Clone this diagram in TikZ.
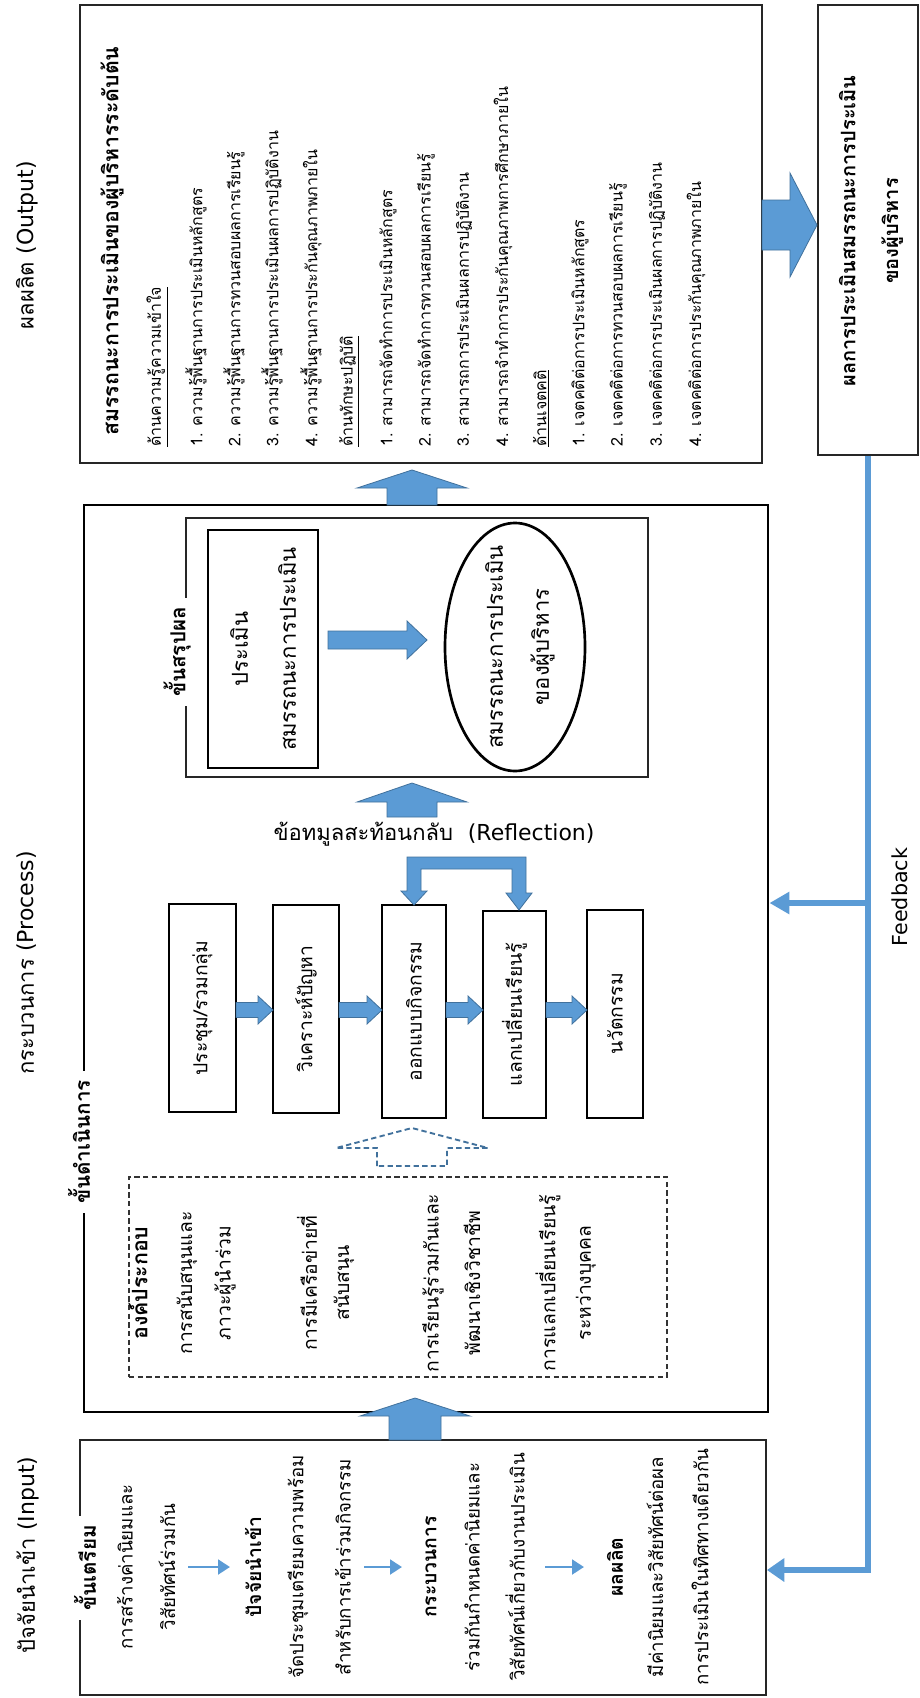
\documentclass[tikz,border=0pt]{standalone}
\usepackage{fontspec}
\setmainfont[Script=Thai]{Loma}
\newfontfamily\lat{DejaVu Sans}
\usetikzlibrary{shapes.geometric,arrows.meta,fit,calc}
\definecolor{ablue}{RGB}{91,155,213}
\definecolor{aedge}{RGB}{65,113,156}
\tikzset{
  vtext/.style={rotate=90, inner sep=0pt},
  ttl/.style={vtext, font=\fontsize{16.5}{19}\selectfont},
  itm/.style={vtext, anchor=west, font=\fontsize{12}{14}\selectfont},
  otitle/.style={vtext, anchor=west, font=\fontsize{16}{18}\selectfont\bfseries},
  inl/.style={vtext, font=\fontsize{14}{16}\selectfont},
  inlb/.style={vtext, font=\fontsize{14.5}{16}\selectfont\bfseries},
  cmp/.style={vtext, font=\fontsize{14.5}{17}\selectfont},
  edgelabel/.style={vtext, fill=white, inner xsep=7pt, inner ysep=1pt, font=\fontsize{15.5}{17}\selectfont\bfseries},
  thinbox/.style={draw=black!85, line width=1.1pt, inner sep=0pt},
  thickbox/.style={draw=black, line width=2.2pt, inner sep=0pt},
  stepbox/.style={draw=black, line width=2pt, inner sep=0pt},
  steptext/.style={vtext, font=\fontsize{14.5}{16}\selectfont},
  fbl/.style={draw=ablue, line width=4.5pt, line join=miter},
  smallarr/.style={draw=ablue, line width=2.2pt, -{Triangle[length=9pt,width=11pt]}},
  pics/fatarrow/.style args={#1/#2/#3/#4}{code={
    \filldraw[fill=ablue, draw=aedge, line width=0.6pt, line join=miter]
      (0,-#2) -- (#1-#4,-#2) -- (#1-#4,-#3) -- (#1,0) -- (#1-#4,#3) -- (#1-#4,#2) -- (0,#2) -- cycle;
  }},
  pics/dasharrow/.style args={#1/#2/#3/#4}{code={
    \draw[draw=aedge, line width=1.4pt, dash pattern=on 4pt off 2.5pt, line join=miter]
      (0,-#2) -- (#1-#4,-#2) -- (#1-#4,-#3) -- (#1,0) -- (#1-#4,#3) -- (#1-#4,#2) -- (0,#2) -- cycle;
  }},
}
\begin{document}
\begin{tikzpicture}[x=0.75pt,y=-0.75pt]
\useasboundingbox (0,0) rectangle (920,1698);
\fill[white] (0,0) rectangle (920,1698);

% ---------- titles ----------
\node[ttl] (tout) at (27,245) {ผลผลิต {\lat (Output)}};
\node[ttl] (tproc) at (27,963) {กระบวนการ {\lat (Process)}};
\node[ttl] (tin) at (28,1555) {ปัจจัยนำเข้า {\lat (Input)}};

% ---------- output box ----------
\node[fit={(80,5) (762,463)}, thinbox] (outbox) {};
\node[otitle] (o0) at (112,436) {สมรรถนะการประเมินของผู้บริหารระดับต้น};
\node[itm] (o1) at (157,447) {\underline{ด้านความรู้ความเข้าใจ}};
\node[itm] (o2) at (196,447) {1. ความรู้พื้นฐานการประเมินหลักสูตร};
\node[itm] (o3) at (234,447) {2. ความรู้พื้นฐานการทวนสอบผลการเรียนรู้};
\node[itm] (o4) at (272,447) {3. ความรู้พื้นฐานการประเมินผลการปฏิบัติงาน};
\node[itm] (o5) at (311,447) {4. ความรู้พื้นฐานการประกันคุณภาพภายใน};
\node[itm] (o6) at (349,447) {\underline{ด้านทักษะปฏิบัติ}};
\node[itm] (o7) at (388,447) {1. สามารถจัดทำการประเมินหลักสูตร};
\node[itm] (o8) at (426,447) {2. สามารถจัดทำการทวนสอบผลการเรียนรู้};
\node[itm] (o9) at (464,447) {3. สามารถการประเมินผลการปฏิบัติงาน};
\node[itm] (o10) at (503,447) {4. สามารถจำทำการประกันคุณภาพการศึกษาภายใน};
\node[itm] (o11) at (541,447) {\underline{ด้านเจตคติ}};
\node[itm] (o12) at (580,447) {1. เจตคติต่อการประเมินหลักสูตร};
\node[itm] (o13) at (618,447) {2. เจตคติต่อการทวนสอบผลการเรียนรู้};
\node[itm] (o14) at (657,447) {3. เจตคติต่อการประเมินผลการปฏิบัติงาน};
\node[itm] (o15) at (696,447) {4. เจตคติต่อการประกันคุณภาพภายใน};

% ---------- final result box ----------
\node[fit={(818,5) (918,455)}, thinbox] (final) {};
\node[vtext, align=center, font=\fontsize{15}{32}\selectfont\bfseries] (finaltxt) at (871,231)
  {ผลการประเมินสมรรถนะการประเมิน\\ของผู้บริหาร};
\pic at (762,225) {fatarrow=55/25/52/27};

% ---------- process box ----------
\node[fit={(84,505) (768,1412)}, thickbox] (procbox) {};
\node[edgelabel] (lproc) at (79,1142) {ขั้นดำเนินการ};
\pic[rotate=90] at (412,505) {fatarrow=35/25/55/18};

% summary sub-box
\node[fit={(186,518) (648,777)}, thinbox] (sumbox) {};
\node[edgelabel] (lsum) at (177,652) {ขั้นสรุปผล};
\node[fit={(208,530) (318,768)}, stepbox] (assess) {};
\node[vtext, align=center, font=\fontsize{16.5}{36}\selectfont] (assesstxt) at (assess.center)
  {ประเมิน\\สมรรถนะการประเมิน};
\node[ellipse, draw=black, line width=2pt, minimum width=105pt, minimum height=186pt] (ell) at (515,647) {};
\node[vtext, align=center, font=\fontsize{16.5}{34.5}\selectfont] (elltxt) at (520,647)
  {สมรรถนะการประเมิน\\ของผู้บริหาร};
\pic at (328,640) {fatarrow=99/9/19/20};

% reflection
\node[inner sep=0pt, font=\fontsize{16.5}{19}\selectfont] (refl) at (434,834) {ข้อทมูลสะท้อนกลับ~~{\lat (Reflection)}};
\pic[rotate=90] at (412,817) {fatarrow=34/25/55/19};

% step boxes
\node[fit={(169,904) (236,1112)}, stepbox] (b1) {};
\node[fit={(273,905) (339,1113)}, stepbox] (b2) {};
\node[fit={(382,905) (446,1118)}, stepbox] (b3) {};
\node[fit={(483,911) (546,1118)}, stepbox] (b4) {};
\node[fit={(587,910) (643,1118)}, stepbox] (b5) {};
\node[steptext] at (b1.center) {ประชุม/รวมกลุ่ม};
\node[steptext] at (b2.center) {วิเคราะห์ปัญหา};
\node[steptext] at (b3.center) {ออกแบบกิจกรรม};
\node[steptext] at (b4.center) {แลกเปลี่ยนเรียนรู้};
\node[steptext] at (b5.center) {นวัตกรรม};
\pic at (236,1010) {fatarrow=37/7.5/14/15};
\pic at (339,1010) {fatarrow=43/7.5/14/15};
\pic at (446,1010) {fatarrow=37/7.5/14/15};
\pic at (546,1010) {fatarrow=41/7.5/14/15};

% split feedback arrow (reflection to steps 3 and 4)
\filldraw[fill=ablue, draw=aedge, line width=0.6pt, line join=miter]
  (407,857) -- (526,857) -- (526,893) -- (532,893) -- (519,910) -- (506,893) -- (512,893)
  -- (512,869) -- (421,869) -- (421,891) -- (427,891) -- (414,905) -- (401,891) -- (407,891) -- cycle;

% components dashed box
\node[fit={(129,1177) (667,1377)}, draw=black!80, line width=1pt, dash pattern=on 4pt off 2.5pt, inner sep=0pt] (comp) {};
\node[vtext, anchor=west, font=\fontsize{16}{18}\selectfont\bfseries] (comph) at (138,1340) {องค์ประกอบ};
\node[cmp] at (187,1283) {การสนับสนุนและ};
\node[cmp] at (225,1283) {ภาวะผู้นำร่วม};
\node[cmp] at (307,1283) {การมีเครือข่ายที่};
\node[cmp] at (344,1283) {สนับสนุน};
\node[cmp] at (433,1283) {การเรียนรู้ร่วมกันและ};
\node[cmp] at (472,1283) {พัฒนาเชิงวิชาชีพ};
\node[cmp] at (548,1283) {การแลกเปลี่ยนเรียนรู้};
\node[cmp] at (586,1283) {ระหว่างบุคคล};
\pic[rotate=90] at (412,1166) {dasharrow=38/35/76/20};

% ---------- input box ----------
\node[fit={(80,1440) (766,1695)}, thinbox, line width=1.4pt] (inbox) {};
\node[edgelabel] (lin) at (85,1568) {ขั้นเตรียม};
\pic[rotate=90] at (415,1440) {fatarrow=42/26/55/18};
\node[inl] at (125,1567) {การสร้างค่านิยมและ};
\node[inl] at (167,1567) {วิสัยทัศน์ร่วมกัน};
\coordinate (ia1) at (188,1567); \coordinate (ib1) at (230,1567);
\draw[smallarr] (ia1) -- (ib1);
\node[inlb] at (253,1567) {ปัจจัยนำเข้า};
\node[inl] at (298,1567) {จัดประชุมเตรียมความพร้อม};
\node[inl] at (343,1567) {สำหรับการเข้าร่วมกิจกรรม};
\coordinate (ia2) at (364,1567); \coordinate (ib2) at (402,1567);
\draw[smallarr] (ia2) -- (ib2);
\node[inlb] at (431,1567) {กระบวนการ};
\node[inl] at (472,1567) {ร่วมกันกำหนดค่านิยมและ};
\node[inl] at (515,1567) {วิสัยทัศน์เกี่ยวกับงานประเมิน};
\coordinate (ia3) at (545,1567); \coordinate (ib3) at (584,1567);
\draw[smallarr] (ia3) -- (ib3);
\node[inlb] at (615,1567) {ผลผลิต};
\node[inl] at (655,1567) {มีค่านิยมและวิสัยทัศน์ต่อผล};
\node[inl] at (700,1567) {การประเมินในทิศทางเดียวกัน};

% ---------- feedback ----------
\coordinate (fbturn) at (868,1570);
\coordinate (fbbranch) at (868,903);
\draw[fbl, -{Triangle[length=13pt,width=17pt]}] (final.south) -- (fbturn) -- (inbox.east |- fbturn);
\draw[fbl, -{Triangle[length=15pt,width=16pt]}] (fbbranch) -- (procbox.east |- fbbranch);
\node[vtext, font=\lat\fontsize{15.5}{18}\selectfont] (fbtxt) at (900,897) {Feedback};
\end{tikzpicture}
\end{document}
